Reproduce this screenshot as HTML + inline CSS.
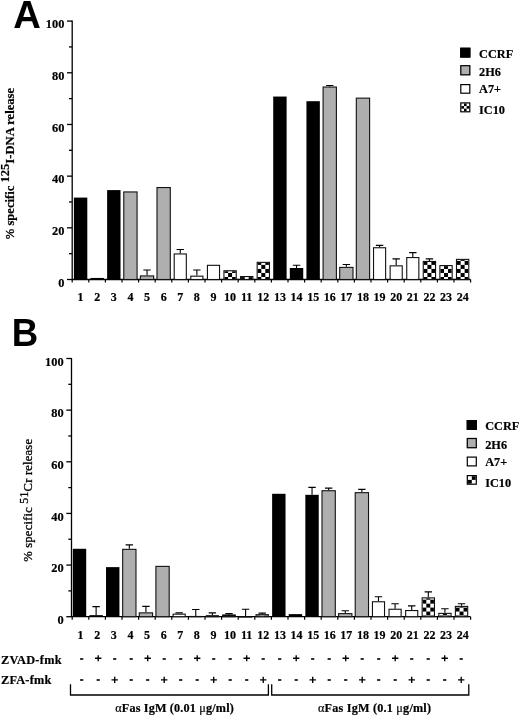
<!DOCTYPE html>
<html><head><meta charset="utf-8"><style>
html,body{margin:0;padding:0;background:#fff;}
body{width:520px;height:717px;overflow:hidden;position:relative;}
svg{position:absolute;left:0;top:0;will-change:transform;}
.s{font-family:"Liberation Serif",serif;font-weight:bold;stroke:#000;stroke-width:0.2px;}
.r{font-family:"Liberation Serif",serif;font-weight:normal;}
.s,.r{font-variant-ligatures:none;}
.h{font-family:"Liberation Sans",sans-serif;font-weight:bold;}
</style></head><body>
<svg width="520" height="717" viewBox="0 0 520 717">
<rect width="520" height="717" fill="#fff"/>
<g><path d="M72.20 20.50 V279.50 H470.60" fill="none" stroke="#000" stroke-width="1.3"/>
<path d="M67.0 279.50 H72.20" stroke="#000" stroke-width="1.3"/>
<path d="M69.0 253.66 H72.20" stroke="#000" stroke-width="1.3"/>
<path d="M67.0 227.82 H72.20" stroke="#000" stroke-width="1.3"/>
<path d="M69.0 201.98 H72.20" stroke="#000" stroke-width="1.3"/>
<path d="M67.0 176.14 H72.20" stroke="#000" stroke-width="1.3"/>
<path d="M69.0 150.30 H72.20" stroke="#000" stroke-width="1.3"/>
<path d="M67.0 124.46 H72.20" stroke="#000" stroke-width="1.3"/>
<path d="M69.0 98.62 H72.20" stroke="#000" stroke-width="1.3"/>
<path d="M67.0 72.78 H72.20" stroke="#000" stroke-width="1.3"/>
<path d="M69.0 46.94 H72.20" stroke="#000" stroke-width="1.3"/>
<path d="M67.0 21.10 H72.20" stroke="#000" stroke-width="1.3"/>
<path d="M72.20 279.50 V282.50" stroke="#000" stroke-width="1.2"/>
<path d="M88.80 279.50 V282.50" stroke="#000" stroke-width="1.2"/>
<path d="M105.40 279.50 V282.50" stroke="#000" stroke-width="1.2"/>
<path d="M122.00 279.50 V282.50" stroke="#000" stroke-width="1.2"/>
<path d="M138.60 279.50 V282.50" stroke="#000" stroke-width="1.2"/>
<path d="M155.20 279.50 V282.50" stroke="#000" stroke-width="1.2"/>
<path d="M171.80 279.50 V282.50" stroke="#000" stroke-width="1.2"/>
<path d="M188.40 279.50 V282.50" stroke="#000" stroke-width="1.2"/>
<path d="M205.00 279.50 V282.50" stroke="#000" stroke-width="1.2"/>
<path d="M221.60 279.50 V282.50" stroke="#000" stroke-width="1.2"/>
<path d="M238.20 279.50 V282.50" stroke="#000" stroke-width="1.2"/>
<path d="M254.80 279.50 V282.50" stroke="#000" stroke-width="1.2"/>
<path d="M271.40 279.50 V282.50" stroke="#000" stroke-width="1.2"/>
<path d="M288.00 279.50 V282.50" stroke="#000" stroke-width="1.2"/>
<path d="M304.60 279.50 V282.50" stroke="#000" stroke-width="1.2"/>
<path d="M321.20 279.50 V282.50" stroke="#000" stroke-width="1.2"/>
<path d="M337.80 279.50 V282.50" stroke="#000" stroke-width="1.2"/>
<path d="M354.40 279.50 V282.50" stroke="#000" stroke-width="1.2"/>
<path d="M371.00 279.50 V282.50" stroke="#000" stroke-width="1.2"/>
<path d="M387.60 279.50 V282.50" stroke="#000" stroke-width="1.2"/>
<path d="M404.20 279.50 V282.50" stroke="#000" stroke-width="1.2"/>
<path d="M420.80 279.50 V282.50" stroke="#000" stroke-width="1.2"/>
<path d="M437.40 279.50 V282.50" stroke="#000" stroke-width="1.2"/>
<path d="M454.00 279.50 V282.50" stroke="#000" stroke-width="1.2"/>
<path d="M470.60 279.50 V282.50" stroke="#000" stroke-width="1.2"/>
<text class="s" x="64.40" y="286.80" font-size="12.4" text-anchor="end">0</text>
<text class="s" x="64.40" y="235.12" font-size="12.4" text-anchor="end">20</text>
<text class="s" x="64.40" y="183.44" font-size="12.4" text-anchor="end">40</text>
<text class="s" x="64.40" y="131.76" font-size="12.4" text-anchor="end">60</text>
<text class="s" x="64.40" y="80.08" font-size="12.4" text-anchor="end">80</text>
<text class="s" x="64.40" y="28.40" font-size="12.4" text-anchor="end">100</text>
<text class="s" x="80.60" y="301.30" font-size="12" text-anchor="middle">1</text>
<text class="s" x="97.21" y="301.30" font-size="12" text-anchor="middle">2</text>
<text class="s" x="113.82" y="301.30" font-size="12" text-anchor="middle">3</text>
<text class="s" x="130.43" y="301.30" font-size="12" text-anchor="middle">4</text>
<text class="s" x="147.04" y="301.30" font-size="12" text-anchor="middle">5</text>
<text class="s" x="163.65" y="301.30" font-size="12" text-anchor="middle">6</text>
<text class="s" x="180.26" y="301.30" font-size="12" text-anchor="middle">7</text>
<text class="s" x="196.87" y="301.30" font-size="12" text-anchor="middle">8</text>
<text class="s" x="213.48" y="301.30" font-size="12" text-anchor="middle">9</text>
<text class="s" x="230.09" y="301.30" font-size="12" text-anchor="middle">10</text>
<text class="s" x="246.70" y="301.30" font-size="12" text-anchor="middle">11</text>
<text class="s" x="263.31" y="301.30" font-size="12" text-anchor="middle">12</text>
<text class="s" x="279.92" y="301.30" font-size="12" text-anchor="middle">13</text>
<text class="s" x="296.53" y="301.30" font-size="12" text-anchor="middle">14</text>
<text class="s" x="313.14" y="301.30" font-size="12" text-anchor="middle">15</text>
<text class="s" x="329.75" y="301.30" font-size="12" text-anchor="middle">16</text>
<text class="s" x="346.36" y="301.30" font-size="12" text-anchor="middle">17</text>
<text class="s" x="362.97" y="301.30" font-size="12" text-anchor="middle">18</text>
<text class="s" x="379.58" y="301.30" font-size="12" text-anchor="middle">19</text>
<text class="s" x="396.19" y="301.30" font-size="12" text-anchor="middle">20</text>
<text class="s" x="412.80" y="301.30" font-size="12" text-anchor="middle">21</text>
<text class="s" x="429.41" y="301.30" font-size="12" text-anchor="middle">22</text>
<text class="s" x="446.02" y="301.30" font-size="12" text-anchor="middle">23</text>
<text class="s" x="462.63" y="301.30" font-size="12" text-anchor="middle">24</text>
<rect x="73.90" y="197.59" width="13.40" height="81.91" fill="#000"/>
<rect x="90.51" y="277.95" width="13.40" height="1.55" fill="#000"/>
<rect x="107.12" y="190.09" width="13.40" height="89.41" fill="#000"/>
<rect x="123.83" y="191.99" width="13.20" height="87.51" fill="#afafaf"/>
<rect x="123.78" y="191.94" width="13.30" height="87.56" fill="none" stroke="#111" stroke-width="1.1"/>
<path d="M147.04 275.37 V269.94 M143.34 269.94 H150.74" stroke="#000" stroke-width="1.1" fill="none"/>
<rect x="140.44" y="275.97" width="13.20" height="3.53" fill="#afafaf"/>
<rect x="140.39" y="275.92" width="13.30" height="3.58" fill="none" stroke="#111" stroke-width="1.1"/>
<rect x="157.05" y="187.59" width="13.20" height="91.91" fill="#afafaf"/>
<rect x="157.00" y="187.54" width="13.30" height="91.96" fill="none" stroke="#111" stroke-width="1.1"/>
<path d="M180.26 253.40 V249.53 M176.56 249.53 H183.96" stroke="#000" stroke-width="1.1" fill="none"/>
<rect x="174.26" y="254.00" width="12.00" height="25.50" fill="#fff"/>
<rect x="174.21" y="253.95" width="12.10" height="25.55" fill="none" stroke="#111" stroke-width="1.1"/>
<path d="M196.87 275.62 V269.94 M193.17 269.94 H200.57" stroke="#000" stroke-width="1.1" fill="none"/>
<rect x="190.87" y="276.22" width="12.00" height="3.28" fill="#fff"/>
<rect x="190.82" y="276.17" width="12.10" height="3.33" fill="none" stroke="#111" stroke-width="1.1"/>
<rect x="207.48" y="265.37" width="12.00" height="14.13" fill="#fff"/>
<rect x="207.43" y="265.32" width="12.10" height="14.18" fill="none" stroke="#111" stroke-width="1.1"/>
<rect x="223.99" y="270.80" width="12.20" height="8.70" fill="#fff"/>
<rect x="224.49" y="277.00" width="3.60" height="2.50" fill="#000"/>
<rect x="232.09" y="277.00" width="3.60" height="2.50" fill="#000"/>
<rect x="228.09" y="272.97" width="4.00" height="4.03" fill="#000"/>
<rect x="224.49" y="271.30" width="3.60" height="1.67" fill="#000"/>
<rect x="232.09" y="271.30" width="3.60" height="1.67" fill="#000"/>
<rect x="223.94" y="270.75" width="12.30" height="8.75" fill="none" stroke="#111" stroke-width="1.1"/>
<rect x="240.60" y="276.61" width="12.20" height="2.89" fill="#fff"/>
<rect x="241.10" y="277.11" width="3.60" height="2.39" fill="#000"/>
<rect x="248.70" y="277.11" width="3.60" height="2.39" fill="#000"/>
<rect x="240.55" y="276.56" width="12.30" height="2.94" fill="none" stroke="#111" stroke-width="1.1"/>
<rect x="257.21" y="262.40" width="12.20" height="17.10" fill="#fff"/>
<rect x="257.71" y="277.00" width="3.60" height="2.50" fill="#000"/>
<rect x="265.31" y="277.00" width="3.60" height="2.50" fill="#000"/>
<rect x="261.31" y="272.97" width="4.00" height="4.03" fill="#000"/>
<rect x="257.71" y="268.94" width="3.60" height="4.03" fill="#000"/>
<rect x="265.31" y="268.94" width="3.60" height="4.03" fill="#000"/>
<rect x="261.31" y="264.91" width="4.00" height="4.03" fill="#000"/>
<rect x="257.71" y="262.90" width="3.60" height="2.01" fill="#000"/>
<rect x="265.31" y="262.90" width="3.60" height="2.01" fill="#000"/>
<rect x="257.16" y="262.35" width="12.30" height="17.15" fill="none" stroke="#111" stroke-width="1.1"/>
<rect x="273.22" y="96.55" width="13.40" height="182.95" fill="#000"/>
<path d="M296.53 268.00 V265.29 M292.83 265.29 H300.23" stroke="#000" stroke-width="1.1" fill="none"/>
<rect x="289.83" y="268.00" width="13.40" height="11.50" fill="#000"/>
<rect x="306.44" y="101.20" width="13.40" height="178.30" fill="#000"/>
<path d="M329.75 86.48 V85.44 M326.05 85.44 H333.45" stroke="#000" stroke-width="1.1" fill="none"/>
<rect x="323.15" y="87.08" width="13.20" height="192.42" fill="#afafaf"/>
<rect x="323.10" y="87.03" width="13.30" height="192.47" fill="none" stroke="#111" stroke-width="1.1"/>
<path d="M346.36 266.84 V264.51 M342.66 264.51 H350.06" stroke="#000" stroke-width="1.1" fill="none"/>
<rect x="339.76" y="267.44" width="13.20" height="12.06" fill="#afafaf"/>
<rect x="339.71" y="267.39" width="13.30" height="12.11" fill="none" stroke="#111" stroke-width="1.1"/>
<rect x="356.37" y="98.19" width="13.20" height="181.31" fill="#afafaf"/>
<rect x="356.32" y="98.14" width="13.30" height="181.36" fill="none" stroke="#111" stroke-width="1.1"/>
<path d="M379.58 247.20 V245.39 M375.88 245.39 H383.28" stroke="#000" stroke-width="1.1" fill="none"/>
<rect x="373.58" y="247.80" width="12.00" height="31.70" fill="#fff"/>
<rect x="373.53" y="247.75" width="12.10" height="31.75" fill="none" stroke="#111" stroke-width="1.1"/>
<path d="M396.19 265.29 V258.83 M392.49 258.83 H399.89" stroke="#000" stroke-width="1.1" fill="none"/>
<rect x="390.19" y="265.89" width="12.00" height="13.61" fill="#fff"/>
<rect x="390.14" y="265.84" width="12.10" height="13.66" fill="none" stroke="#111" stroke-width="1.1"/>
<path d="M412.80 257.02 V252.63 M409.10 252.63 H416.50" stroke="#000" stroke-width="1.1" fill="none"/>
<rect x="406.80" y="257.62" width="12.00" height="21.88" fill="#fff"/>
<rect x="406.75" y="257.57" width="12.10" height="21.93" fill="none" stroke="#111" stroke-width="1.1"/>
<path d="M429.41 260.90 V258.83 M425.71 258.83 H433.11" stroke="#000" stroke-width="1.1" fill="none"/>
<rect x="423.31" y="261.50" width="12.20" height="18.00" fill="#fff"/>
<rect x="423.81" y="277.00" width="3.60" height="2.50" fill="#000"/>
<rect x="431.41" y="277.00" width="3.60" height="2.50" fill="#000"/>
<rect x="427.41" y="272.97" width="4.00" height="4.03" fill="#000"/>
<rect x="423.81" y="268.94" width="3.60" height="4.03" fill="#000"/>
<rect x="431.41" y="268.94" width="3.60" height="4.03" fill="#000"/>
<rect x="427.41" y="264.91" width="4.00" height="4.03" fill="#000"/>
<rect x="423.81" y="262.00" width="3.60" height="2.91" fill="#000"/>
<rect x="431.41" y="262.00" width="3.60" height="2.91" fill="#000"/>
<rect x="423.26" y="261.45" width="12.30" height="18.05" fill="none" stroke="#111" stroke-width="1.1"/>
<rect x="439.92" y="265.63" width="12.20" height="13.87" fill="#fff"/>
<rect x="440.42" y="277.00" width="3.60" height="2.50" fill="#000"/>
<rect x="448.02" y="277.00" width="3.60" height="2.50" fill="#000"/>
<rect x="444.02" y="272.97" width="4.00" height="4.03" fill="#000"/>
<rect x="440.42" y="268.94" width="3.60" height="4.03" fill="#000"/>
<rect x="448.02" y="268.94" width="3.60" height="4.03" fill="#000"/>
<rect x="444.02" y="266.13" width="4.00" height="2.81" fill="#000"/>
<rect x="439.87" y="265.58" width="12.30" height="13.92" fill="none" stroke="#111" stroke-width="1.1"/>
<rect x="456.53" y="259.43" width="12.20" height="20.07" fill="#fff"/>
<rect x="457.03" y="277.00" width="3.60" height="2.50" fill="#000"/>
<rect x="464.63" y="277.00" width="3.60" height="2.50" fill="#000"/>
<rect x="460.63" y="272.97" width="4.00" height="4.03" fill="#000"/>
<rect x="457.03" y="268.94" width="3.60" height="4.03" fill="#000"/>
<rect x="464.63" y="268.94" width="3.60" height="4.03" fill="#000"/>
<rect x="460.63" y="264.91" width="4.00" height="4.03" fill="#000"/>
<rect x="457.03" y="260.88" width="3.60" height="4.03" fill="#000"/>
<rect x="464.63" y="260.88" width="3.60" height="4.03" fill="#000"/>
<rect x="460.63" y="259.93" width="4.00" height="0.95" fill="#000"/>
<rect x="456.48" y="259.38" width="12.30" height="20.12" fill="none" stroke="#111" stroke-width="1.1"/></g>
<g><path d="M71.50 357.90 V616.70 H470.60" fill="none" stroke="#000" stroke-width="1.3"/>
<path d="M66.3 616.70 H71.50" stroke="#000" stroke-width="1.3"/>
<path d="M68.3 590.88 H71.50" stroke="#000" stroke-width="1.3"/>
<path d="M66.3 565.06 H71.50" stroke="#000" stroke-width="1.3"/>
<path d="M68.3 539.24 H71.50" stroke="#000" stroke-width="1.3"/>
<path d="M66.3 513.42 H71.50" stroke="#000" stroke-width="1.3"/>
<path d="M68.3 487.60 H71.50" stroke="#000" stroke-width="1.3"/>
<path d="M66.3 461.78 H71.50" stroke="#000" stroke-width="1.3"/>
<path d="M68.3 435.96 H71.50" stroke="#000" stroke-width="1.3"/>
<path d="M66.3 410.14 H71.50" stroke="#000" stroke-width="1.3"/>
<path d="M68.3 384.32 H71.50" stroke="#000" stroke-width="1.3"/>
<path d="M66.3 358.50 H71.50" stroke="#000" stroke-width="1.3"/>
<path d="M72.20 616.70 V619.70" stroke="#000" stroke-width="1.2"/>
<path d="M88.80 616.70 V619.70" stroke="#000" stroke-width="1.2"/>
<path d="M105.40 616.70 V619.70" stroke="#000" stroke-width="1.2"/>
<path d="M122.00 616.70 V619.70" stroke="#000" stroke-width="1.2"/>
<path d="M138.60 616.70 V619.70" stroke="#000" stroke-width="1.2"/>
<path d="M155.20 616.70 V619.70" stroke="#000" stroke-width="1.2"/>
<path d="M171.80 616.70 V619.70" stroke="#000" stroke-width="1.2"/>
<path d="M188.40 616.70 V619.70" stroke="#000" stroke-width="1.2"/>
<path d="M205.00 616.70 V619.70" stroke="#000" stroke-width="1.2"/>
<path d="M221.60 616.70 V619.70" stroke="#000" stroke-width="1.2"/>
<path d="M238.20 616.70 V619.70" stroke="#000" stroke-width="1.2"/>
<path d="M254.80 616.70 V619.70" stroke="#000" stroke-width="1.2"/>
<path d="M271.40 616.70 V619.70" stroke="#000" stroke-width="1.2"/>
<path d="M288.00 616.70 V619.70" stroke="#000" stroke-width="1.2"/>
<path d="M304.60 616.70 V619.70" stroke="#000" stroke-width="1.2"/>
<path d="M321.20 616.70 V619.70" stroke="#000" stroke-width="1.2"/>
<path d="M337.80 616.70 V619.70" stroke="#000" stroke-width="1.2"/>
<path d="M354.40 616.70 V619.70" stroke="#000" stroke-width="1.2"/>
<path d="M371.00 616.70 V619.70" stroke="#000" stroke-width="1.2"/>
<path d="M387.60 616.70 V619.70" stroke="#000" stroke-width="1.2"/>
<path d="M404.20 616.70 V619.70" stroke="#000" stroke-width="1.2"/>
<path d="M420.80 616.70 V619.70" stroke="#000" stroke-width="1.2"/>
<path d="M437.40 616.70 V619.70" stroke="#000" stroke-width="1.2"/>
<path d="M454.00 616.70 V619.70" stroke="#000" stroke-width="1.2"/>
<path d="M470.60 616.70 V619.70" stroke="#000" stroke-width="1.2"/>
<text class="s" x="63.70" y="624.00" font-size="12.4" text-anchor="end">0</text>
<text class="s" x="63.70" y="572.36" font-size="12.4" text-anchor="end">20</text>
<text class="s" x="63.70" y="520.72" font-size="12.4" text-anchor="end">40</text>
<text class="s" x="63.70" y="469.08" font-size="12.4" text-anchor="end">60</text>
<text class="s" x="63.70" y="417.44" font-size="12.4" text-anchor="end">80</text>
<text class="s" x="63.70" y="365.80" font-size="12.4" text-anchor="end">100</text>
<text class="s" x="80.60" y="638.50" font-size="12" text-anchor="middle">1</text>
<text class="s" x="97.21" y="638.50" font-size="12" text-anchor="middle">2</text>
<text class="s" x="113.82" y="638.50" font-size="12" text-anchor="middle">3</text>
<text class="s" x="130.43" y="638.50" font-size="12" text-anchor="middle">4</text>
<text class="s" x="147.04" y="638.50" font-size="12" text-anchor="middle">5</text>
<text class="s" x="163.65" y="638.50" font-size="12" text-anchor="middle">6</text>
<text class="s" x="180.26" y="638.50" font-size="12" text-anchor="middle">7</text>
<text class="s" x="196.87" y="638.50" font-size="12" text-anchor="middle">8</text>
<text class="s" x="213.48" y="638.50" font-size="12" text-anchor="middle">9</text>
<text class="s" x="230.09" y="638.50" font-size="12" text-anchor="middle">10</text>
<text class="s" x="246.70" y="638.50" font-size="12" text-anchor="middle">11</text>
<text class="s" x="263.31" y="638.50" font-size="12" text-anchor="middle">12</text>
<text class="s" x="279.92" y="638.50" font-size="12" text-anchor="middle">13</text>
<text class="s" x="296.53" y="638.50" font-size="12" text-anchor="middle">14</text>
<text class="s" x="313.14" y="638.50" font-size="12" text-anchor="middle">15</text>
<text class="s" x="329.75" y="638.50" font-size="12" text-anchor="middle">16</text>
<text class="s" x="346.36" y="638.50" font-size="12" text-anchor="middle">17</text>
<text class="s" x="362.97" y="638.50" font-size="12" text-anchor="middle">18</text>
<text class="s" x="379.58" y="638.50" font-size="12" text-anchor="middle">19</text>
<text class="s" x="396.19" y="638.50" font-size="12" text-anchor="middle">20</text>
<text class="s" x="412.80" y="638.50" font-size="12" text-anchor="middle">21</text>
<text class="s" x="429.41" y="638.50" font-size="12" text-anchor="middle">22</text>
<text class="s" x="446.02" y="638.50" font-size="12" text-anchor="middle">23</text>
<text class="s" x="462.63" y="638.50" font-size="12" text-anchor="middle">24</text>
<rect x="72.80" y="548.79" width="13.40" height="67.91" fill="#000"/>
<path d="M96.11 615.15 V606.63 M92.41 606.63 H99.81" stroke="#000" stroke-width="1.1" fill="none"/>
<rect x="89.41" y="615.15" width="13.40" height="1.55" fill="#000"/>
<rect x="106.02" y="567.13" width="13.40" height="49.57" fill="#000"/>
<path d="M129.33 548.79 V544.92 M125.63 544.92 H133.03" stroke="#000" stroke-width="1.1" fill="none"/>
<rect x="122.73" y="549.39" width="13.20" height="67.31" fill="#afafaf"/>
<rect x="122.68" y="549.34" width="13.30" height="67.36" fill="none" stroke="#111" stroke-width="1.1"/>
<path d="M145.94 612.31 V606.37 M142.24 606.37 H149.64" stroke="#000" stroke-width="1.1" fill="none"/>
<rect x="139.34" y="612.91" width="13.20" height="3.79" fill="#afafaf"/>
<rect x="139.29" y="612.86" width="13.30" height="3.84" fill="none" stroke="#111" stroke-width="1.1"/>
<rect x="155.95" y="566.43" width="13.20" height="50.27" fill="#afafaf"/>
<rect x="155.90" y="566.38" width="13.30" height="50.32" fill="none" stroke="#111" stroke-width="1.1"/>
<path d="M179.16 613.60 V612.83 M175.46 612.83 H182.86" stroke="#000" stroke-width="1.1" fill="none"/>
<rect x="173.16" y="614.20" width="12.00" height="2.50" fill="#fff"/>
<rect x="173.11" y="614.15" width="12.10" height="2.55" fill="none" stroke="#111" stroke-width="1.1"/>
<path d="M195.77 615.93 V609.47 M192.07 609.47 H199.47" stroke="#000" stroke-width="1.1" fill="none"/>
<rect x="189.77" y="616.53" width="12.00" height="0.17" fill="#fff"/>
<rect x="189.72" y="616.48" width="12.10" height="0.22" fill="none" stroke="#111" stroke-width="1.1"/>
<path d="M212.38 615.15 V612.83 M208.68 612.83 H216.08" stroke="#000" stroke-width="1.1" fill="none"/>
<rect x="206.38" y="615.75" width="12.00" height="0.95" fill="#fff"/>
<rect x="206.33" y="615.70" width="12.10" height="1.00" fill="none" stroke="#111" stroke-width="1.1"/>
<path d="M228.99 614.63 V613.60 M225.29 613.60 H232.69" stroke="#000" stroke-width="1.1" fill="none"/>
<rect x="222.89" y="615.23" width="12.20" height="1.47" fill="#fff"/>
<rect x="222.29" y="614.63" width="13.40" height="2.07" fill="#000"/>
<rect x="222.84" y="615.18" width="12.30" height="1.52" fill="none" stroke="#111" stroke-width="1.1"/>
<path d="M245.60 616.44 V609.21 M241.90 609.21 H249.30" stroke="#000" stroke-width="1.1" fill="none"/>
<rect x="239.50" y="617.04" width="12.20" height="0.10" fill="#fff"/>
<rect x="238.90" y="616.44" width="13.40" height="0.26" fill="#000"/>
<rect x="239.45" y="616.99" width="12.30" height="0.10" fill="none" stroke="#111" stroke-width="1.1"/>
<path d="M262.21 614.12 V613.09 M258.51 613.09 H265.91" stroke="#000" stroke-width="1.1" fill="none"/>
<rect x="256.11" y="614.72" width="12.20" height="1.98" fill="#fff"/>
<rect x="256.61" y="615.50" width="3.60" height="1.20" fill="#000"/>
<rect x="264.21" y="615.50" width="3.60" height="1.20" fill="#000"/>
<rect x="260.21" y="615.22" width="4.00" height="0.28" fill="#000"/>
<rect x="256.06" y="614.67" width="12.30" height="2.03" fill="none" stroke="#111" stroke-width="1.1"/>
<rect x="272.12" y="493.80" width="13.40" height="122.90" fill="#000"/>
<rect x="288.73" y="614.12" width="13.40" height="2.58" fill="#000"/>
<path d="M312.04 494.83 V487.34 M308.34 487.34 H315.74" stroke="#000" stroke-width="1.1" fill="none"/>
<rect x="305.34" y="494.83" width="13.40" height="121.87" fill="#000"/>
<path d="M328.65 490.18 V488.12 M324.95 488.12 H332.35" stroke="#000" stroke-width="1.1" fill="none"/>
<rect x="322.05" y="490.78" width="13.20" height="125.92" fill="#afafaf"/>
<rect x="322.00" y="490.73" width="13.30" height="125.97" fill="none" stroke="#111" stroke-width="1.1"/>
<path d="M345.26 613.09 V610.76 M341.56 610.76 H348.96" stroke="#000" stroke-width="1.1" fill="none"/>
<rect x="338.66" y="613.69" width="13.20" height="3.01" fill="#afafaf"/>
<rect x="338.61" y="613.64" width="13.30" height="3.06" fill="none" stroke="#111" stroke-width="1.1"/>
<path d="M361.87 492.12 V489.41 M358.17 489.41 H365.57" stroke="#000" stroke-width="1.1" fill="none"/>
<rect x="355.27" y="492.72" width="13.20" height="123.98" fill="#afafaf"/>
<rect x="355.22" y="492.67" width="13.30" height="124.03" fill="none" stroke="#111" stroke-width="1.1"/>
<path d="M378.48 601.21 V596.82 M374.78 596.82 H382.18" stroke="#000" stroke-width="1.1" fill="none"/>
<rect x="372.48" y="601.81" width="12.00" height="14.89" fill="#fff"/>
<rect x="372.43" y="601.76" width="12.10" height="14.94" fill="none" stroke="#111" stroke-width="1.1"/>
<path d="M395.09 608.70 V603.79 M391.39 603.79 H398.79" stroke="#000" stroke-width="1.1" fill="none"/>
<rect x="389.09" y="609.30" width="12.00" height="7.40" fill="#fff"/>
<rect x="389.04" y="609.25" width="12.10" height="7.45" fill="none" stroke="#111" stroke-width="1.1"/>
<path d="M411.70 609.99 V605.86 M408.00 605.86 H415.40" stroke="#000" stroke-width="1.1" fill="none"/>
<rect x="405.70" y="610.59" width="12.00" height="6.11" fill="#fff"/>
<rect x="405.65" y="610.54" width="12.10" height="6.16" fill="none" stroke="#111" stroke-width="1.1"/>
<path d="M428.31 597.34 V591.91 M424.61 591.91 H432.01" stroke="#000" stroke-width="1.1" fill="none"/>
<rect x="422.21" y="597.94" width="12.20" height="18.77" fill="#fff"/>
<rect x="422.71" y="615.50" width="3.60" height="1.20" fill="#000"/>
<rect x="430.31" y="615.50" width="3.60" height="1.20" fill="#000"/>
<rect x="426.31" y="611.55" width="4.00" height="3.95" fill="#000"/>
<rect x="422.71" y="607.60" width="3.60" height="3.95" fill="#000"/>
<rect x="430.31" y="607.60" width="3.60" height="3.95" fill="#000"/>
<rect x="426.31" y="603.65" width="4.00" height="3.95" fill="#000"/>
<rect x="422.71" y="599.70" width="3.60" height="3.95" fill="#000"/>
<rect x="430.31" y="599.70" width="3.60" height="3.95" fill="#000"/>
<rect x="426.31" y="598.44" width="4.00" height="1.26" fill="#000"/>
<rect x="422.16" y="597.88" width="12.30" height="18.82" fill="none" stroke="#111" stroke-width="1.1"/>
<path d="M444.92 612.83 V608.70 M441.22 608.70 H448.62" stroke="#000" stroke-width="1.1" fill="none"/>
<rect x="438.82" y="613.43" width="12.20" height="3.27" fill="#fff"/>
<rect x="439.32" y="615.50" width="3.60" height="1.20" fill="#000"/>
<rect x="446.92" y="615.50" width="3.60" height="1.20" fill="#000"/>
<rect x="442.92" y="613.93" width="4.00" height="1.57" fill="#000"/>
<rect x="438.77" y="613.38" width="12.30" height="3.32" fill="none" stroke="#111" stroke-width="1.1"/>
<path d="M461.53 605.86 V603.79 M457.83 603.79 H465.23" stroke="#000" stroke-width="1.1" fill="none"/>
<rect x="455.43" y="606.46" width="12.20" height="10.24" fill="#fff"/>
<rect x="455.93" y="615.50" width="3.60" height="1.20" fill="#000"/>
<rect x="463.53" y="615.50" width="3.60" height="1.20" fill="#000"/>
<rect x="459.53" y="611.55" width="4.00" height="3.95" fill="#000"/>
<rect x="455.93" y="607.60" width="3.60" height="3.95" fill="#000"/>
<rect x="463.53" y="607.60" width="3.60" height="3.95" fill="#000"/>
<rect x="459.53" y="606.96" width="4.00" height="0.64" fill="#000"/>
<rect x="455.38" y="606.41" width="12.30" height="10.29" fill="none" stroke="#111" stroke-width="1.1"/></g>
<text class="h" x="13.2" y="27.9" font-size="39" transform="translate(13.2 0) scale(0.98 1) translate(-13.2 0)">A</text>
<text class="h" x="11.8" y="345.6" font-size="39" transform="translate(11.8 0) scale(0.94 1) translate(-11.8 0)">B</text>
<rect x="460.20" y="47.70" width="10.2" height="9.90" fill="#000"/>
<rect x="460.80" y="48.30" width="9.00" height="8.70" fill="none" stroke="#000" stroke-width="1.2"/>
<text class="s" x="479.0" y="57.6" font-size="12.3">CCRF</text>
<rect x="460.20" y="65.10" width="10.2" height="10.30" fill="#afafaf"/>
<rect x="460.80" y="65.70" width="9.00" height="9.10" fill="none" stroke="#000" stroke-width="1.2"/>
<text class="s" x="479.0" y="75.7" font-size="12.3">2H6</text>
<rect x="460.20" y="84.00" width="10.2" height="9.80" fill="#fff"/>
<rect x="460.80" y="84.60" width="9.00" height="8.60" fill="none" stroke="#000" stroke-width="1.2"/>
<text class="s" x="479.0" y="93.4" font-size="12.3">A7+</text>
<rect x="460.20" y="102.30" width="10.2" height="10.10" fill="#fff"/>
<rect x="464.00" y="103.50" width="2.60" height="2.57" fill="#000"/>
<rect x="461.40" y="106.07" width="2.60" height="2.57" fill="#000"/>
<rect x="466.60" y="106.07" width="2.60" height="2.57" fill="#000"/>
<rect x="464.00" y="108.63" width="2.60" height="2.57" fill="#000"/>
<rect x="460.80" y="102.90" width="9.00" height="8.90" fill="none" stroke="#000" stroke-width="1.2"/>
<text class="s" x="479.0" y="113.5" font-size="12.3">IC10</text>
<rect x="466.70" y="420.00" width="10.2" height="10.00" fill="#000"/>
<rect x="467.30" y="420.60" width="9.00" height="8.80" fill="none" stroke="#000" stroke-width="1.2"/>
<text class="s" x="485.2" y="430" font-size="12.3">CCRF</text>
<rect x="466.70" y="437.90" width="10.2" height="10.40" fill="#afafaf"/>
<rect x="467.30" y="438.50" width="9.00" height="9.20" fill="none" stroke="#000" stroke-width="1.2"/>
<text class="s" x="485.2" y="448.9" font-size="12.3">2H6</text>
<rect x="466.70" y="456.50" width="10.2" height="10.00" fill="#fff"/>
<rect x="467.30" y="457.10" width="9.00" height="8.80" fill="none" stroke="#000" stroke-width="1.2"/>
<text class="s" x="485.2" y="466.3" font-size="12.3">A7+</text>
<rect x="466.70" y="475.00" width="10.2" height="9.80" fill="#fff"/>
<rect x="471.80" y="476.20" width="3.90" height="3.70" fill="#000"/>
<rect x="467.90" y="479.90" width="3.90" height="3.70" fill="#000"/>
<rect x="467.30" y="475.60" width="9.00" height="8.60" fill="none" stroke="#000" stroke-width="1.2"/>
<text class="s" x="485.2" y="486.5" font-size="12.3">IC10</text>
<text class="s" font-size="12.6" transform="translate(13.8,239.2) rotate(-90)"><tspan font-weight="normal" stroke="#000" stroke-width="0.35">%</tspan> specific <tspan dy="-4.4" font-size="12.6">125</tspan><tspan dy="4.4">I-DNA release</tspan></text>
<text class="r" font-size="12.6" stroke="#000" stroke-width="0.3" letter-spacing="0.2" transform="translate(32.2,561.8) rotate(-90)">% specific <tspan dy="-4.2" font-size="11.8">51</tspan><tspan dy="4.2">Cr release</tspan></text>
<text class="s" x="1" y="663.7" font-size="12.3" textLength="60.5">ZVAD-fmk</text>
<text class="s" x="1" y="683.6" font-size="12.3" textLength="50.3">ZFA-fmk</text>
<rect x="80.10" y="658.20" width="3.2" height="1.6" fill="#000"/>
<rect x="80.10" y="679.20" width="3.2" height="1.6" fill="#000"/>
<path d="M95.00 658.20 H101.40 M98.20 655.15 V661.25" stroke="#000" stroke-width="1.35"/>
<rect x="96.60" y="679.20" width="3.2" height="1.6" fill="#000"/>
<rect x="113.10" y="658.20" width="3.2" height="1.6" fill="#000"/>
<path d="M111.50 679.90 H117.90 M114.70 676.85 V682.95" stroke="#000" stroke-width="1.35"/>
<rect x="129.60" y="658.20" width="3.2" height="1.6" fill="#000"/>
<rect x="129.60" y="679.20" width="3.2" height="1.6" fill="#000"/>
<path d="M144.50 658.20 H150.90 M147.70 655.15 V661.25" stroke="#000" stroke-width="1.35"/>
<rect x="146.10" y="679.20" width="3.2" height="1.6" fill="#000"/>
<rect x="162.60" y="658.20" width="3.2" height="1.6" fill="#000"/>
<path d="M161.00 679.90 H167.40 M164.20 676.85 V682.95" stroke="#000" stroke-width="1.35"/>
<rect x="179.10" y="658.20" width="3.2" height="1.6" fill="#000"/>
<rect x="179.10" y="679.20" width="3.2" height="1.6" fill="#000"/>
<path d="M194.00 658.20 H200.40 M197.20 655.15 V661.25" stroke="#000" stroke-width="1.35"/>
<rect x="195.60" y="679.20" width="3.2" height="1.6" fill="#000"/>
<rect x="212.10" y="658.20" width="3.2" height="1.6" fill="#000"/>
<path d="M210.50 679.90 H216.90 M213.70 676.85 V682.95" stroke="#000" stroke-width="1.35"/>
<rect x="228.60" y="658.20" width="3.2" height="1.6" fill="#000"/>
<rect x="228.60" y="679.20" width="3.2" height="1.6" fill="#000"/>
<path d="M243.50 658.20 H249.90 M246.70 655.15 V661.25" stroke="#000" stroke-width="1.35"/>
<rect x="245.10" y="679.20" width="3.2" height="1.6" fill="#000"/>
<rect x="261.60" y="658.20" width="3.2" height="1.6" fill="#000"/>
<path d="M260.00 679.90 H266.40 M263.20 676.85 V682.95" stroke="#000" stroke-width="1.35"/>
<rect x="278.10" y="658.20" width="3.2" height="1.6" fill="#000"/>
<rect x="278.10" y="679.20" width="3.2" height="1.6" fill="#000"/>
<path d="M293.00 658.20 H299.40 M296.20 655.15 V661.25" stroke="#000" stroke-width="1.35"/>
<rect x="294.60" y="679.20" width="3.2" height="1.6" fill="#000"/>
<rect x="311.10" y="658.20" width="3.2" height="1.6" fill="#000"/>
<path d="M309.50 679.90 H315.90 M312.70 676.85 V682.95" stroke="#000" stroke-width="1.35"/>
<rect x="327.60" y="658.20" width="3.2" height="1.6" fill="#000"/>
<rect x="327.60" y="679.20" width="3.2" height="1.6" fill="#000"/>
<path d="M342.50 658.20 H348.90 M345.70 655.15 V661.25" stroke="#000" stroke-width="1.35"/>
<rect x="344.10" y="679.20" width="3.2" height="1.6" fill="#000"/>
<rect x="360.60" y="658.20" width="3.2" height="1.6" fill="#000"/>
<path d="M359.00 679.90 H365.40 M362.20 676.85 V682.95" stroke="#000" stroke-width="1.35"/>
<rect x="377.10" y="658.20" width="3.2" height="1.6" fill="#000"/>
<rect x="377.10" y="679.20" width="3.2" height="1.6" fill="#000"/>
<path d="M392.00 658.20 H398.40 M395.20 655.15 V661.25" stroke="#000" stroke-width="1.35"/>
<rect x="393.60" y="679.20" width="3.2" height="1.6" fill="#000"/>
<rect x="410.10" y="658.20" width="3.2" height="1.6" fill="#000"/>
<path d="M408.50 679.90 H414.90 M411.70 676.85 V682.95" stroke="#000" stroke-width="1.35"/>
<rect x="426.60" y="658.20" width="3.2" height="1.6" fill="#000"/>
<rect x="426.60" y="679.20" width="3.2" height="1.6" fill="#000"/>
<path d="M441.50 658.20 H447.90 M444.70 655.15 V661.25" stroke="#000" stroke-width="1.35"/>
<rect x="443.10" y="679.20" width="3.2" height="1.6" fill="#000"/>
<rect x="459.60" y="658.20" width="3.2" height="1.6" fill="#000"/>
<path d="M458.00 679.90 H464.40 M461.20 676.85 V682.95" stroke="#000" stroke-width="1.35"/>
<path d="M70.5 684.2 V695 H268.4 V684.2" fill="none" stroke="#000" stroke-width="1.3"/>
<path d="M271.7 684.2 V695 H468.8 V684.2" fill="none" stroke="#000" stroke-width="1.3"/>
<text class="s" x="115.2" y="712.4" font-size="12.2" textLength="118.6"><tspan font-weight="normal">&#945;</tspan>Fas IgM (0.01 <tspan font-weight="normal">&#956;</tspan>g/ml)</text>
<text class="s" x="318.0" y="712.4" font-size="12.2" textLength="113.0"><tspan font-weight="normal">&#945;</tspan>Fas IgM (0.1 <tspan font-weight="normal">&#956;</tspan>g/ml)</text>
</svg></body></html>
